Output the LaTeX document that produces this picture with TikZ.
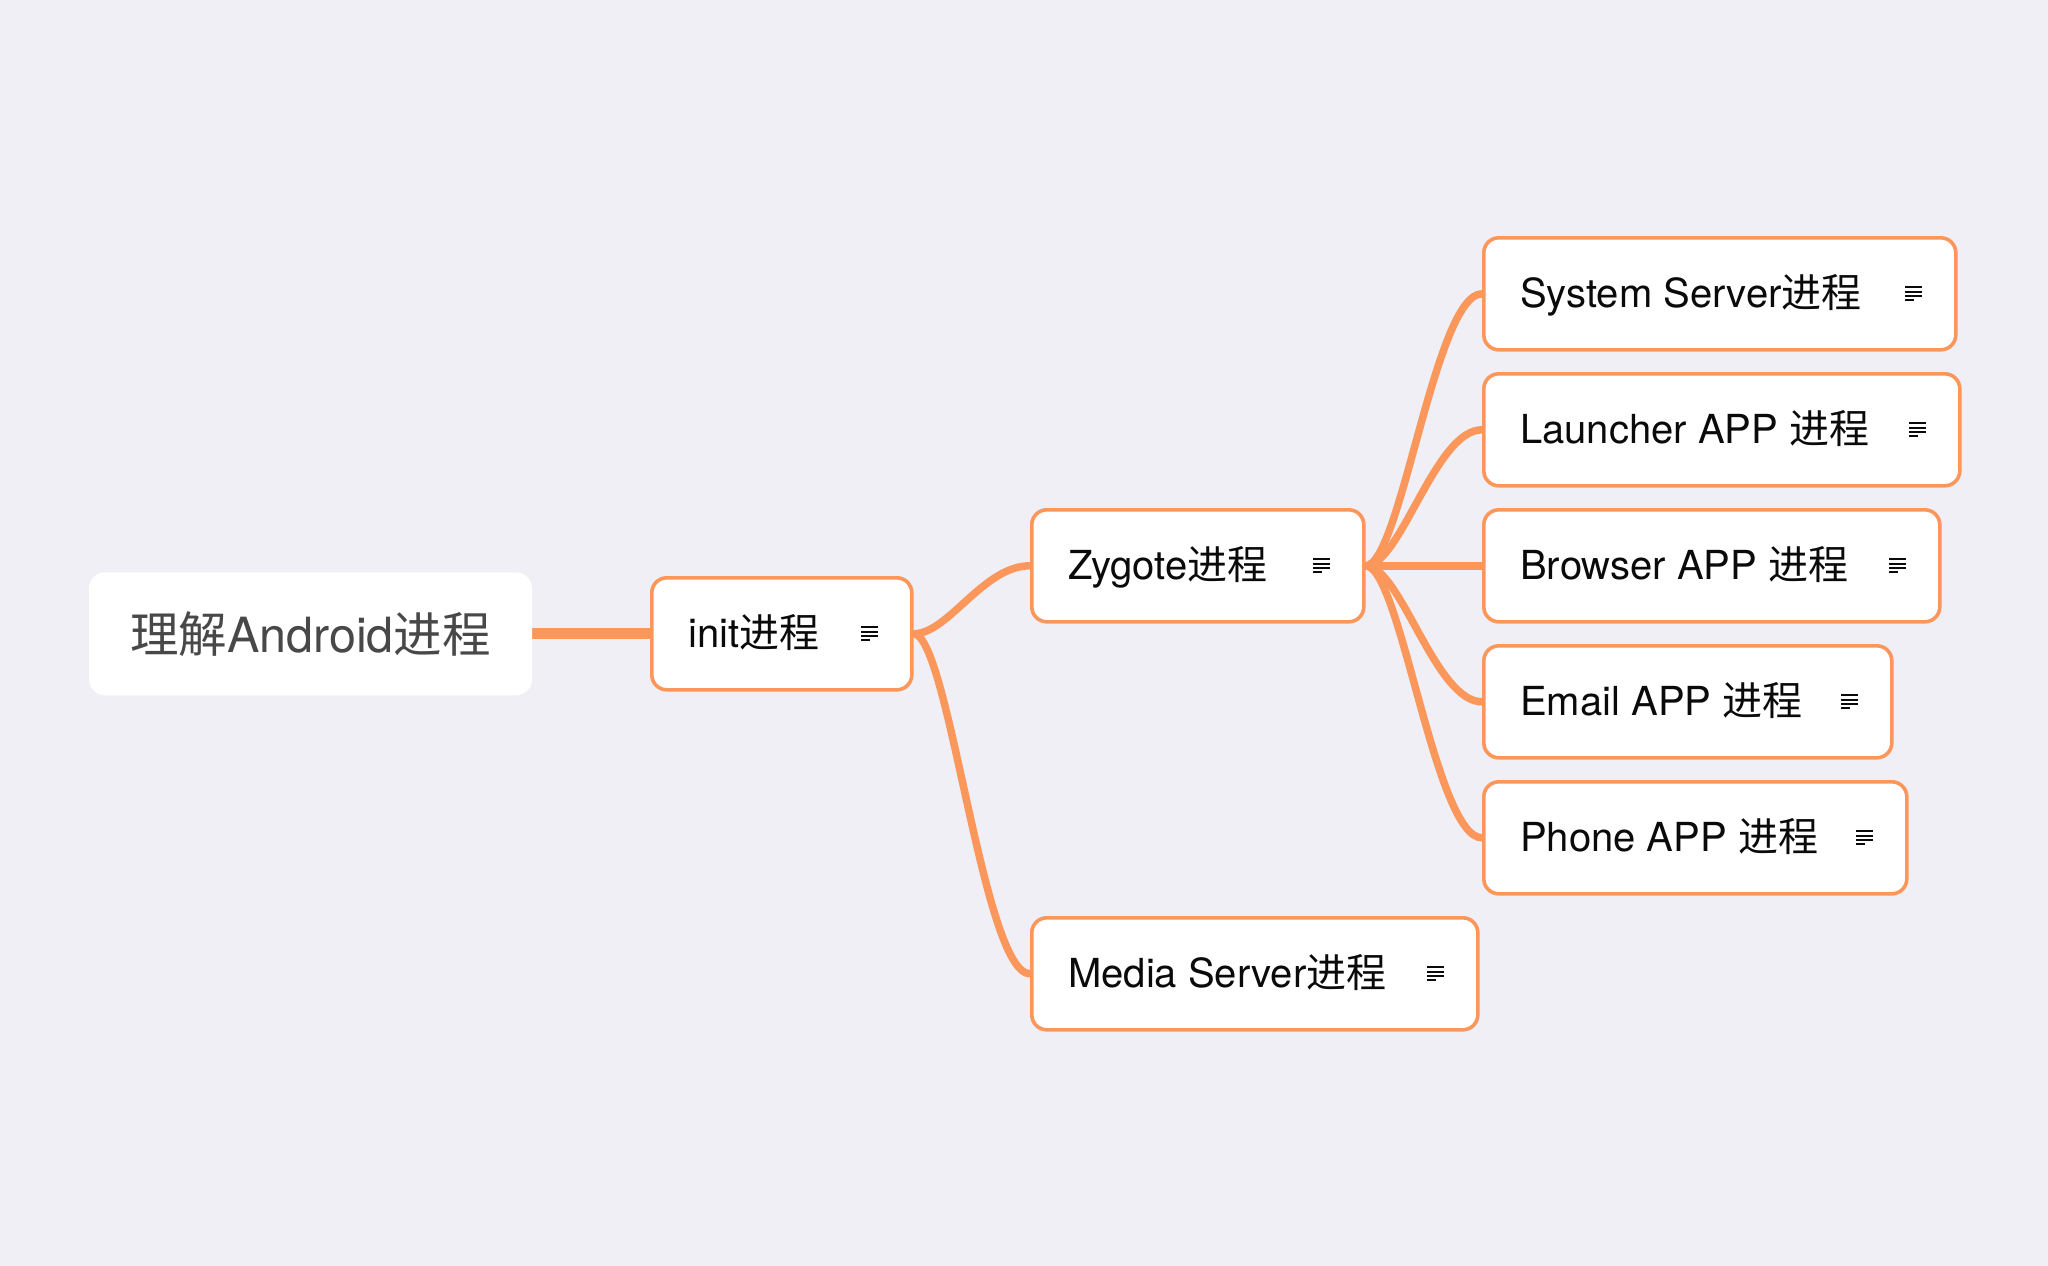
\documentclass[tikz,border=0pt]{standalone}
\usepackage{fontspec}
\setmainfont{TeX Gyre Heros}
\newfontfamily\cjk{Noto Sans CJK SC}
\usetikzlibrary{calc}
\pgfdeclarelayer{bg}
\pgfsetlayers{bg,main}
\definecolor{bgc}{RGB}{239,239,245}
\definecolor{org}{RGB}{251,151,91}
\definecolor{rootgray}{RGB}{72,72,72}
\definecolor{txt}{RGB}{10,10,10}
\begin{document}
\begin{tikzpicture}[x=1pt,y=-1pt,
  box/.style={draw=org, line width=3.6pt, fill=white, rounded corners=15pt, minimum height=112pt, anchor=north west, inner sep=0pt},
  rootbox/.style={fill=white, rounded corners=16pt, minimum width=443pt, minimum height=123pt, text=rootgray, font=\fontsize{48.5}{56}\selectfont, inner sep=0pt},
  lbl/.style={anchor=base west, inner sep=0pt, text=txt, font=\fontsize{40}{48}\selectfont},
  link/.style={draw=org, line width=7.5pt, line cap=round},
  rootlink/.style={draw=org, line width=11pt},
  noteicon/.pic={\draw[line width=2pt, txt] (-8.5,-6.5)--(8.5,-6.5) (-8.5,-2.2)--(8.5,-2.2) (-8.5,2.2)--(8.5,2.2) (-8.5,6.5)--(0.5,6.5);}
]
\useasboundingbox (0,0) rectangle (2048,1266);

\node[rootbox] (root) at (310.5,633.8) {{\cjk 理解}Android{\cjk 进程}};

\node[box, minimum width=260pt] (init) at (650,576) {};
\node[box, minimum width=332pt] (zygote) at (1030,508) {};
\node[box, minimum width=446pt] (media) at (1030,916) {};
\node[box, minimum width=472pt] (sys) at (1482,236) {};
\node[box, minimum width=476pt] (launch) at (1482,372) {};
\node[box, minimum width=456pt] (browser) at (1482,508) {};
\node[box, minimum width=408pt] (email) at (1482,644) {};
\node[box, minimum width=423pt] (phone) at (1482,780) {};

\node[lbl] (init-t) at ([xshift=38pt,yshift=-14pt]init.west) {init{\cjk 进程}};
\node[lbl] (zygote-t) at ([xshift=38pt,yshift=-14pt]zygote.west) {Zygote{\cjk 进程}};
\node[lbl] (media-t) at ([xshift=38pt,yshift=-14pt]media.west) {Media Server{\cjk 进程}};
\node[lbl] (sys-t) at ([xshift=38pt,yshift=-14pt]sys.west) {System Server{\cjk 进程}};
\node[lbl] (launch-t) at ([xshift=38pt,yshift=-14pt]launch.west) {Launcher APP {\cjk 进程}};
\node[lbl] (browser-t) at ([xshift=38pt,yshift=-14pt]browser.west) {Browser APP {\cjk 进程}};
\node[lbl] (email-t) at ([xshift=38pt,yshift=-14pt]email.west) {Email APP {\cjk 进程}};
\node[lbl] (phone-t) at ([xshift=38pt,yshift=-14pt]phone.west) {Phone APP {\cjk 进程}};

\foreach \n in {init,zygote,media,sys,launch,browser,email,phone}{
  \pic at ([xshift=-44pt]\n.east) {noteicon};
}

\begin{pgfonlayer}{bg}
\fill[bgc] (0,0) rectangle (2048,1266);
\draw[rootlink] (root.east) -- (init.west);
\draw[link] (init.east) .. controls +(35,0) and +(-47,0) .. (zygote.west);
\draw[link] (init.east) .. controls +(35,0) and +(-47,0) .. (media.west);
\foreach \c in {sys,launch,browser,email,phone}{
  \draw[link] (zygote.east) .. controls +(35,0) and +(-47,0) .. (\c.west);
}
\end{pgfonlayer}
\end{tikzpicture}
\end{document}
